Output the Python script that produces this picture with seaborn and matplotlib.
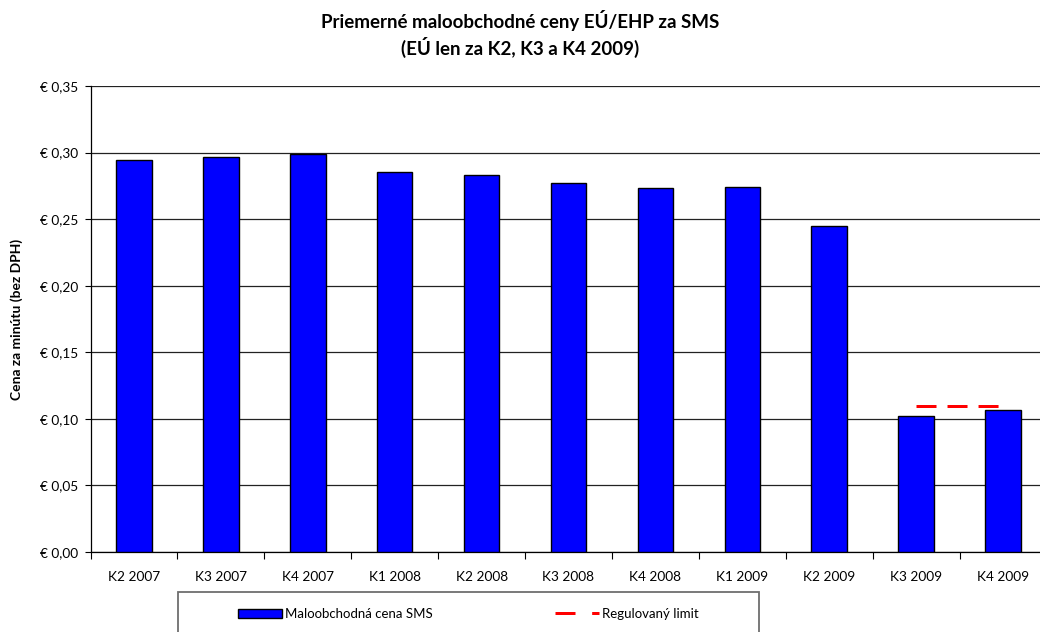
import matplotlib
matplotlib.use("Agg")
import matplotlib.pyplot as plt
import seaborn as sns
import pandas as pd
from matplotlib.ticker import FuncFormatter, FixedLocator
from matplotlib.patches import Patch, Rectangle
from matplotlib.lines import Line2D

categories = ["K2 2007", "K3 2007", "K4 2007", "K1 2008", "K2 2008", "K3 2008",
              "K4 2008", "K1 2009", "K2 2009", "K3 2009", "K4 2009"]
prices = [0.2944, 0.2964, 0.2987, 0.2852, 0.2832, 0.2769, 0.2732, 0.2744, 0.2449, 0.1025, 0.1063]
limit_categories = ["K3 2009", "K4 2009"]
limit_values = [0.11, 0.11]

title = "Priemerné maloobchodné ceny EÚ/EHP za SMS\n(EÚ len za K2, K3 a K4 2009)"
ylabel = "Cena za minútu (bez DPH)"
bar_label = "Maloobchodná cena SMS"
limit_label = "Regulovaný limit"

sns.set_theme(style="white")
plt.rcParams["font.family"] = ["Lato", "DejaVu Sans"]

fig = plt.figure(figsize=(10.4, 6.32), dpi=100)
W, H = 1040, 632
x0, x1 = 90.5, 1046.5
y0, y1 = 552, 86
ax = fig.add_axes([x0 / W, 1 - y0 / H, (x1 - x0) / W, (y0 - y1) / H])

df = pd.DataFrame({"cat": categories, "price": prices})
sns.barplot(data=df, x="cat", y="price", order=categories, color="#0000FF",
            saturation=1, edgecolor="black", linewidth=1.0, width=0.41, ax=ax, zorder=3)

lx = [categories.index(c) for c in limit_categories]
ax.plot(lx, limit_values, color="#FF0000", lw=2.16, dashes=(6.67, 3.67), zorder=4,
        solid_capstyle="butt", dash_capstyle="butt")

ax.set_xlim(-0.5, len(categories) - 0.5)
ax.set_ylim(0, 0.35)
ax.set_yticks([0, 0.05, 0.10, 0.15, 0.20, 0.25, 0.30, 0.35])
ax.yaxis.set_major_formatter(FuncFormatter(lambda v, p: "€ " + f"{v:.2f}".replace(".", ",")))
ax.yaxis.grid(True, color="#222222", lw=0.9)
ax.set_axisbelow(True)
ax.xaxis.set_minor_locator(FixedLocator([i - 0.5 for i in range(len(categories) + 1)]))
ax.tick_params(axis="x", which="major", length=0, pad=14, labelsize=9.8, labelcolor="black")
ax.tick_params(axis="x", which="minor", length=5, width=0.8, color="black", direction="out", bottom=True)
ax.tick_params(axis="y", length=4, width=0.8, color="black", direction="out", left=True,
               labelsize=9.8, pad=5, labelcolor="black")
for s in ["top", "right"]:
    ax.spines[s].set_visible(False)
for s in ["left", "bottom"]:
    ax.spines[s].set_color("black")
    ax.spines[s].set_linewidth(0.9)
ax.set_xlabel("")
ax.set_ylabel(ylabel, fontsize=10, fontweight="bold", labelpad=12, color="black")

fig.text(520 / W, 1 - 34 / H, title, ha="center", va="center", fontsize=13.5,
         fontweight="bold", linespacing=1.3, color="black")

# legend frame (extends past bottom edge)
fig.patches.append(Rectangle((178 / W, -0.05), (759 - 178) / W, (1 - 592 / H) + 0.05,
                             transform=fig.transFigure, facecolor="white",
                             edgecolor="#6e6e6e", lw=1.3, zorder=1))

fs = 9.5
h1 = [Patch(facecolor="#0000FF", edgecolor="black", lw=1.0, label=bar_label)]
leg1 = fig.legend(handles=h1, loc="center left", bbox_to_anchor=(238 / W, 1 - 614 / H),
                  fontsize=fs, frameon=False, borderpad=0, borderaxespad=0,
                  handlelength=31.7 / fs, handleheight=7.2 / fs, handletextpad=2.2 / fs)
h2 = [Line2D([0], [0], color="#FF0000", lw=2.16, dashes=(6.67, 5.55), label=limit_label)]
leg2 = fig.legend(handles=h2, loc="center left", bbox_to_anchor=(555 / W, 1 - 614 / H),
                  fontsize=fs, frameon=False, borderpad=0, borderaxespad=0,
                  handlelength=31.7 / fs, handletextpad=2.2 / fs)
for lg in (leg1, leg2):
    lg.set_zorder(5)
    for t in lg.get_texts():
        t.set_color("black")

fig.savefig("out.png", dpi=100)
